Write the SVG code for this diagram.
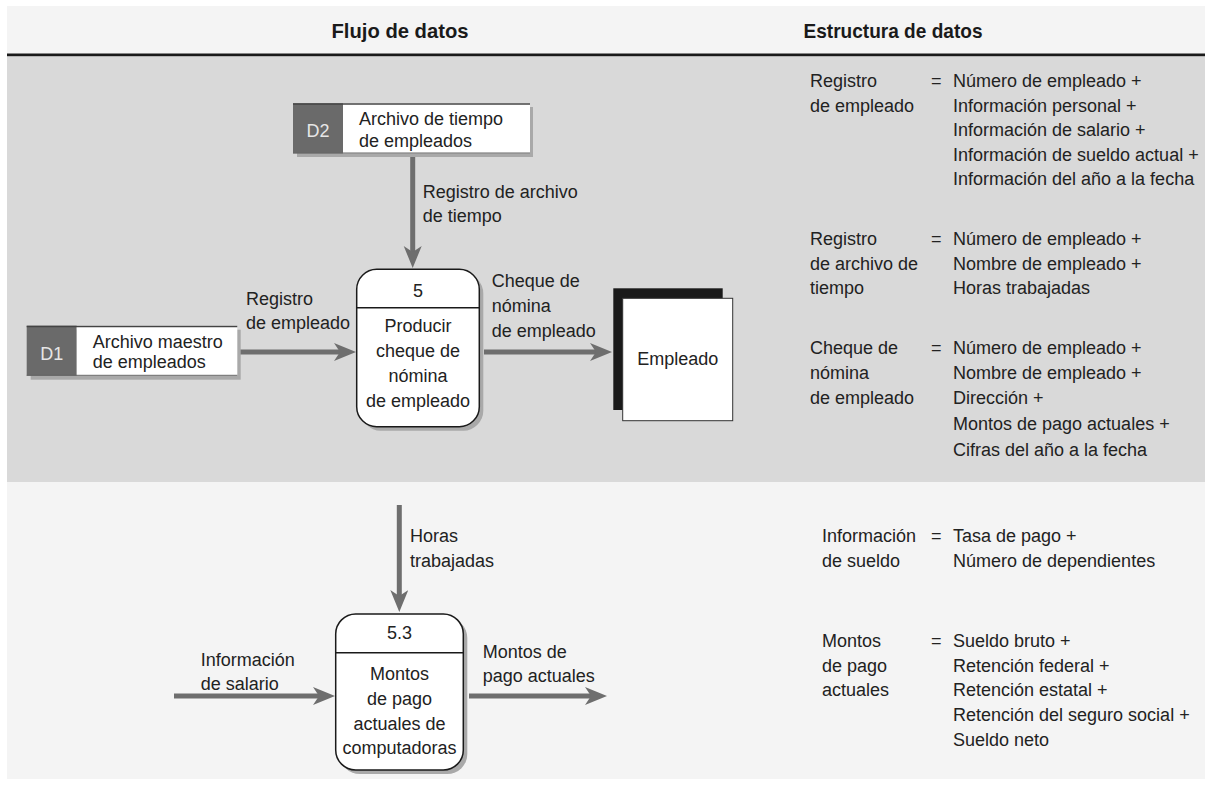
<svg xmlns="http://www.w3.org/2000/svg" width="1205" height="785" viewBox="0 0 1205 785">
<style>
text{font-family:"Liberation Sans",Arial,sans-serif;font-size:18px;fill:#222}
.h{font-weight:bold;font-size:21px;fill:#1a1a1a}
.c{text-anchor:middle}
.sid{fill:#e6e6e6}
.flow{stroke:#6e6e6e;stroke-width:5;fill:none}
.proc{fill:#fff;stroke:#1a1a1a;stroke-width:1.5}
.shadow{fill:#a9a9a9}
</style>
<defs>
<marker id="ah" markerUnits="userSpaceOnUse" markerWidth="24" markerHeight="20" refX="10" refY="9" orient="auto">
<path d="M0,0 L22,9 L0,18 L6,9 Z" fill="#6e6e6e"/>
</marker>
</defs>
<rect x="0" y="0" width="1205" height="785" fill="#fff"/>
<g id="panels">
<rect x="7" y="6" width="1198" height="48" fill="#f4f4f4"/>
<rect x="7" y="53.5" width="1198" height="3" fill="#1a1a1a"/>
<rect x="7" y="56.5" width="1198" height="425.5" fill="#d9d9d9"/>
<rect x="7" y="482" width="1198" height="297" fill="#f4f4f4"/>
</g>
<g id="headers">
<text class="h c" x="400" y="38" textLength="137" lengthAdjust="spacingAndGlyphs">Flujo de datos</text>
<text class="h c" x="893" y="38" textLength="179" lengthAdjust="spacingAndGlyphs">Estructura de datos</text>
</g>
<g id="connectors">
<line class="flow" x1="412.7" y1="157" x2="412.7" y2="256" marker-end="url(#ah)"/>
<line class="flow" x1="237" y1="352" x2="344" y2="352" marker-end="url(#ah)"/>
<line class="flow" x1="484" y1="352" x2="600" y2="352" marker-end="url(#ah)"/>
<line class="flow" x1="399.3" y1="505" x2="399.3" y2="600" marker-end="url(#ah)"/>
<line class="flow" x1="174" y1="696" x2="323" y2="696" marker-end="url(#ah)"/>
<line class="flow" x1="469" y1="696" x2="595" y2="696" marker-end="url(#ah)"/>
<text x="422.7" y="198">Registro de archivo</text>
<text x="422.7" y="222">de tiempo</text>
<text x="246" y="305">Registro</text>
<text x="246" y="329">de empleado</text>
<text x="491.7" y="287">Cheque de</text>
<text x="491.7" y="312">nómina</text>
<text x="491.7" y="337">de empleado</text>
<text x="410" y="542">Horas</text>
<text x="410" y="567">trabajadas</text>
<text x="200.7" y="666">Información</text>
<text x="200.7" y="690">de salario</text>
<text x="482.7" y="658">Montos de</text>
<text x="482.7" y="682">pago actuales</text>
</g>
<g id="store-d2">
<rect class="shadow" x="297" y="107" width="236" height="50"/>
<rect x="293" y="103.3" width="50" height="50" fill="#6a6a6a"/>
<rect x="343" y="103.3" width="187" height="50" fill="#fff"/>
<line x1="293" y1="104" x2="530" y2="104" stroke="#444" stroke-width="1.5"/>
<line x1="293" y1="153" x2="530" y2="153" stroke="#666" stroke-width="1"/>
<text class="c sid" x="318" y="137">D2</text>
<text x="359" y="125">Archivo de tiempo</text>
<text x="359" y="146.5">de empleados</text>
</g>
<g id="store-d1">
<rect class="shadow" x="30.7" y="329.7" width="210" height="50"/>
<rect x="26.7" y="325.7" width="50" height="50" fill="#6a6a6a"/>
<rect x="76.7" y="325.7" width="160.6" height="50" fill="#fff"/>
<line x1="26.7" y1="326.4" x2="237.3" y2="326.4" stroke="#444" stroke-width="1.5"/>
<line x1="26.7" y1="375.3" x2="237.3" y2="375.3" stroke="#666" stroke-width="1"/>
<text class="c sid" x="51.7" y="360">D1</text>
<text x="92.7" y="347.5">Archivo maestro</text>
<text x="92.7" y="368">de empleados</text>
</g>
<g id="process-5">
<rect class="shadow" x="360.7" y="273.3" width="122.6" height="157.4" rx="20"/>
<rect class="proc" x="356.7" y="269.3" width="122.6" height="157.4" rx="20"/>
<line x1="356.7" y1="307.7" x2="479.3" y2="307.7" stroke="#1a1a1a" stroke-width="1.5"/>
<text class="c" x="418" y="297.3">5</text>
<text class="c" x="418" y="331.7">Producir</text>
<text class="c" x="418" y="356.7">cheque de</text>
<text class="c" x="418" y="381.7">nómina</text>
<text class="c" x="418" y="406.7">de empleado</text>
</g>
<g id="entity-empleado">
<rect x="613.3" y="288.3" width="109.4" height="121.7" fill="#1a1a1a"/>
<rect x="622.7" y="298.3" width="110" height="122.4" fill="#fff" stroke="#333" stroke-width="1"/>
<text class="c" x="677.7" y="365">Empleado</text>
</g>
<g id="process-5-3">
<rect class="shadow" x="339.7" y="618" width="127.6" height="156" rx="20"/>
<rect class="proc" x="335.7" y="614" width="127.6" height="156" rx="20"/>
<line x1="335.7" y1="652.7" x2="463.3" y2="652.7" stroke="#1a1a1a" stroke-width="1.5"/>
<text class="c" x="399.5" y="639.3">5.3</text>
<text class="c" x="399.5" y="680">Montos</text>
<text class="c" x="399.5" y="705">de pago</text>
<text class="c" x="399.5" y="729.5">actuales de</text>
<text class="c" x="399.5" y="754.3">computadoras</text>
</g>
<g id="def-registro-empleado">
<text x="810" y="87">Registro</text>
<text x="810" y="111.5">de empleado</text>
<text x="931" y="87">=</text>
<text x="953" y="87">Número de empleado +</text>
<text x="953" y="111.5">Información personal +</text>
<text x="953" y="136">Información de salario +</text>
<text x="953" y="160.5">Información de sueldo actual +</text>
<text x="953" y="185">Información del año a la fecha</text>
</g>
<g id="def-registro-archivo">
<text x="810" y="245">Registro</text>
<text x="810" y="269.5">de archivo de</text>
<text x="810" y="294">tiempo</text>
<text x="931" y="245">=</text>
<text x="953" y="245">Número de empleado +</text>
<text x="953" y="269.5">Nombre de empleado +</text>
<text x="953" y="294">Horas trabajadas</text>
</g>
<g id="def-cheque">
<text x="810" y="353.5">Cheque de</text>
<text x="810" y="378.5">nómina</text>
<text x="810" y="403.5">de empleado</text>
<text x="931" y="353.5">=</text>
<text x="953" y="353.5">Número de empleado +</text>
<text x="953" y="378.5">Nombre de empleado +</text>
<text x="953" y="404">Dirección +</text>
<text x="953" y="430">Montos de pago actuales +</text>
<text x="953" y="456">Cifras del año a la fecha</text>
</g>
<g id="def-informacion-sueldo">
<text x="822" y="542">Información</text>
<text x="822" y="566.5">de sueldo</text>
<text x="931" y="542">=</text>
<text x="953" y="542">Tasa de pago +</text>
<text x="953" y="566.5">Número de dependientes</text>
</g>
<g id="def-montos">
<text x="822" y="646.5">Montos</text>
<text x="822" y="671.5">de pago</text>
<text x="822" y="696">actuales</text>
<text x="931" y="646.5">=</text>
<text x="953" y="646.5">Sueldo bruto +</text>
<text x="953" y="671.5">Retención federal +</text>
<text x="953" y="696">Retención estatal +</text>
<text x="953" y="721">Retención del seguro social +</text>
<text x="953" y="746">Sueldo neto</text>
</g>
</svg>
